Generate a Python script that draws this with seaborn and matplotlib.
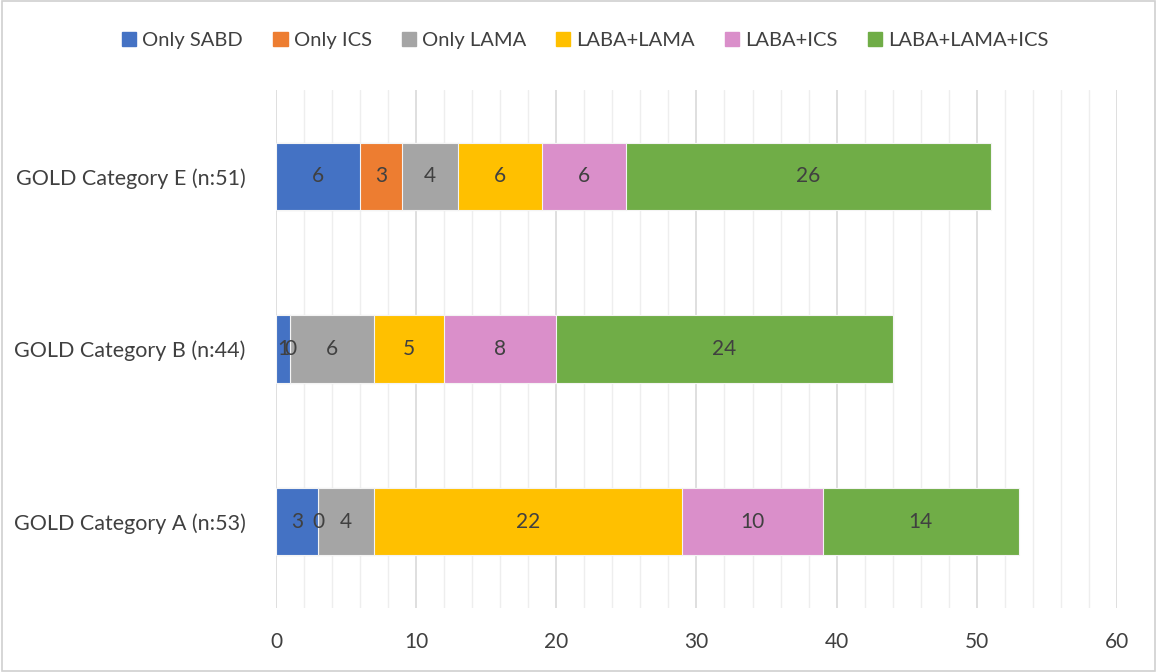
import numpy as np
import pandas as pd
import seaborn as sns
import matplotlib.pyplot as plt
from matplotlib.ticker import MultipleLocator
from matplotlib.patches import Rectangle

# data
categories = ["GOLD Category E (n:51)", "GOLD Category B (n:44)", "GOLD Category A (n:53)"]
series = ["Only SABD", "Only ICS", "Only LAMA", "LABA+LAMA", "LABA+ICS", "LABA+LAMA+ICS"]
only_sabd = [6, 1, 3]
only_ics = [3, 0, 0]
only_lama = [4, 6, 4]
laba_lama = [6, 5, 22]
laba_ics = [6, 8, 10]
laba_lama_ics = [26, 24, 14]
colors = ["#4472C4", "#ED7D31", "#A5A5A5", "#FFC000", "#DA8FCA", "#70AD47"]

values = np.array([only_sabd, only_ics, only_lama, laba_lama, laba_ics, laba_lama_ics])
cum = values.cumsum(axis=0)

sns.set_theme(style="white")
plt.rcParams["font.family"] = ["Lato", "DejaVu Sans"]
text_col = "#404040"

fig = plt.figure(figsize=(11.57, 6.72), dpi=100)
ax = fig.add_axes([0.2385, 0.0952, 0.7269, 0.7708])

# stacked bars: draw cumulative totals from the longest down
for i in range(len(series) - 1, -1, -1):
    df = pd.DataFrame({"category": categories, "total": cum[i]})
    sns.barplot(data=df, x="total", y="category", order=categories, orient="h",
                color=colors[i], width=0.39, edgecolor="#f4f4f4", linewidth=0.8,
                saturation=1, ax=ax, zorder=2)

# value labels in the middle of each segment
for i in range(len(series)):
    for j in range(len(categories)):
        ax.text(cum[i][j] - values[i][j] / 2, j, str(values[i][j]), ha="center",
                va="center", fontsize=15, color=text_col, zorder=3)

ax.set_xlim(0, 60)
ax.set_ylim(2.5, -0.5)
ax.xaxis.set_major_locator(MultipleLocator(10))
ax.xaxis.set_minor_locator(MultipleLocator(2))
ax.grid(axis="x", which="major", color="#d9d9d9", linewidth=1.2, zorder=0)
ax.grid(axis="x", which="minor", color="#eeeeee", linewidth=1.0, zorder=0)
ax.set_axisbelow(True)
for s in ax.spines.values():
    s.set_visible(False)
ax.set_xlabel("")
ax.set_ylabel("")
ax.tick_params(axis="x", which="both", length=0, pad=17, labelsize=15, labelcolor=text_col)
ax.tick_params(axis="y", length=0, pad=22, labelsize=15.5, labelcolor=text_col)

handles = [Rectangle((0, 0), 1, 1, color=c) for c in colors]
fig.legend(handles, series, loc="center", bbox_to_anchor=(0.506, 0.94), ncol=6,
           frameon=False, fontsize=14.5, handlelength=0.7, handleheight=0.7,
           handletextpad=0.3, columnspacing=1.5, labelcolor=text_col)

fig.patches.append(Rectangle((0.002, 0.002), 0.996, 0.996, transform=fig.transFigure,
                             fill=False, edgecolor="#d0d0d0", linewidth=1.2))

plt.savefig("out.png", dpi=100)
